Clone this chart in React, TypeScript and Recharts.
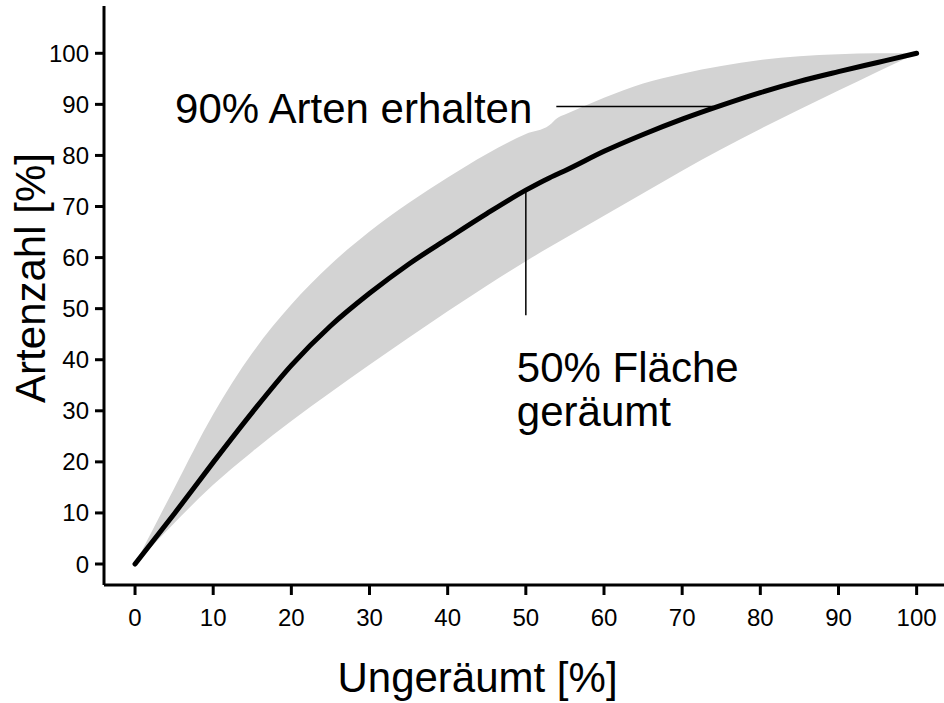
import {
  ComposedChart,
  Area,
  Line,
  XAxis,
  YAxis,
  ReferenceLine,
  Label,
} from "recharts";

const FONT = "'Liberation Sans', Arial, sans-serif";

// Anteil ungeräumter Fläche [%]
const X_VALUES = [0, 5, 10, 15, 20, 25, 30, 35, 40, 45, 50, 53, 54, 55, 60, 65, 70, 75, 80, 85, 90, 95, 100];
// mittlere Artenzahl [%]
const MEAN = [0, 9.8, 19.9, 29.7, 38.9, 46.6, 53, 58.7, 63.7, 68.6, 73.2, 75.6, 76.3, 77, 80.8, 84.1, 87.1, 89.8, 92.3, 94.5, 96.4, 98.2, 100];
// Streuung: untere / obere Grenze
const LOWER = [0, 8, 15.5, 22, 28, 33.6, 39, 44.3, 49.5, 54.5, 59.3, 62, 62.9, 63.8, 68.2, 72.6, 77, 81.2, 85.2, 89, 92.7, 96.4, 100];
const UPPER = [0, 14.8, 29.3, 41.3, 50.8, 58.6, 65.1, 70.7, 75.7, 80.3, 84.2, 85.9, 87.3, 88, 91.3, 94.1, 96, 97.5, 98.7, 99.4, 99.8, 100, 100];

const TICKS = [0, 10, 20, 30, 40, 50, 60, 70, 80, 90, 100];

const data = X_VALUES.map((x, i) => ({
  x,
  mean: MEAN[i],
  band: [LOWER[i], UPPER[i]],
}));

const tickStyle = { fontSize: 24, fill: "#000", fontFamily: FONT };
const bigText = { fontSize: 42, fill: "#000", fontFamily: FONT };

export default function App() {
  return (
    <div style={{ position: "absolute", left: 0, top: 0 }}>
      <ComposedChart
        width={944}
        height={703}
        data={data}
        margin={{ top: 6, right: 0, left: 0, bottom: 0 }}
      >
        <XAxis
          dataKey="x"
          type="number"
          domain={[-3.97, 103.5]}
          ticks={TICKS}
          allowDataOverflow
          height={118}
          tick={tickStyle}
          tickSize={10}
          tickMargin={14}
          axisLine={{ stroke: "#000", strokeWidth: 3 }}
          tickLine={{ stroke: "#000", strokeWidth: 3 }}
        >
          <Label
            content={({ viewBox }: any) => (
              <text
                x={viewBox.x + viewBox.width / 2 - 46.5}
                y={viewBox.y + 107}
                textAnchor="middle"
                style={bigText}
              >
                Ungeräumt [%]
              </text>
            )}
          />
        </XAxis>
        <YAxis
          type="number"
          domain={[-4.11, 109.26]}
          ticks={TICKS}
          allowDataOverflow
          width={104}
          tick={tickStyle}
          tickSize={9}
          tickMargin={6}
          axisLine={{ stroke: "#000", strokeWidth: 3 }}
          tickLine={{ stroke: "#000", strokeWidth: 3 }}
        >
          <Label
            content={({ viewBox }: any) => {
              const x = viewBox.x + 45;
              const y = viewBox.y + viewBox.height / 2 - 17.5;
              return (
                <text
                  x={x}
                  y={y}
                  textAnchor="middle"
                  transform={`rotate(-90 ${x} ${y})`}
                  style={bigText}
                >
                  Artenzahl [%]
                </text>
              );
            }}
          />
        </YAxis>
        <Area
          dataKey="band"
          type="monotone"
          stroke="none"
          fill="#d3d3d3"
          fillOpacity={1}
          isAnimationActive={false}
        />
        <Line
          dataKey="mean"
          type="monotone"
          stroke="#000"
          strokeWidth={5}
          strokeLinecap="round"
          dot={false}
          isAnimationActive={false}
        />
        <ReferenceLine
          segment={[{ x: 53.9, y: 89.6 }, { x: 74, y: 89.6 }]}
          stroke="#000"
          strokeWidth={1.5}
          label={{
            content: ({ viewBox }: any) => (
              <text x={viewBox.x - 24} y={viewBox.y + 17} textAnchor="end" style={bigText}>
                90% Arten erhalten
              </text>
            ),
          }}
        />
        <ReferenceLine
          segment={[{ x: 50, y: 73.2 }, { x: 50, y: 48.7 }]}
          stroke="#000"
          strokeWidth={1.5}
          label={{
            content: ({ viewBox }: any) => {
              const x = viewBox.x - 9;
              const y = viewBox.y + (viewBox.height || 0) + 66.5;
              return (
                <text x={x} y={y} style={bigText}>
                  <tspan x={x}>50% Fläche</tspan>
                  <tspan x={x} dy={44.5}>geräumt</tspan>
                </text>
              );
            },
          }}
        />
      </ComposedChart>
    </div>
  );
}
